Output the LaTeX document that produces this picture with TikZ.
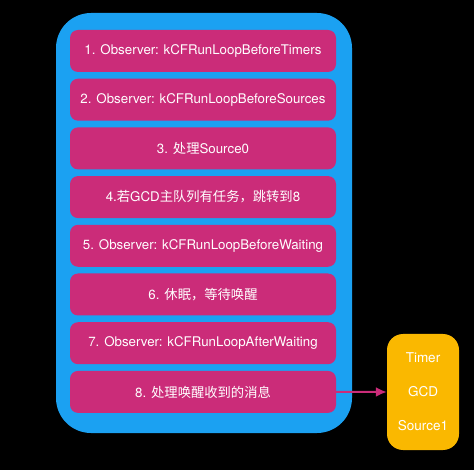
\documentclass[tikz,border=0pt]{standalone}
\usepackage{fontspec}
\setmainfont{TeX Gyre Heros}
\newfontfamily\cjk{Noto Sans CJK SC}
\usetikzlibrary{arrows.meta}
\definecolor{loopblue}{RGB}{27,161,242}
\definecolor{steppink}{RGB}{203,44,121}
\definecolor{srcyellow}{RGB}{250,184,0}
\begin{document}
\begin{tikzpicture}[x=1pt,y=-1pt,
    stepbox/.style={rectangle, rounded corners=8pt, fill=steppink, text=white,
        minimum width=266pt, minimum height=42pt, font=\fontsize{13.3}{15}\selectfont},
    looparrow/.style={-{Latex[length=11pt,width=10pt]}, line width=2pt, draw=steppink}]
            \fill[black] (0,0) rectangle (474,470);
            \node[rectangle, rounded corners=35pt, fill=loopblue, minimum width=296pt, minimum height=420pt] (loop) at (204,223) {};
            \node[stepbox] (s1) at (203,51) {1. Observer: kCFRunLoopBeforeTimers};
            \node[stepbox] (s2) at (203,99.7) {2. Observer: kCFRunLoopBeforeSources};
            \node[stepbox] (s3) at (203,148.4) {3. {\cjk 处理}Source0};
            \node[stepbox] (s4) at (203,197.1) {4.{\cjk 若}GCD{\cjk 主队列有任务，跳转到}8};
            \node[stepbox] (s5) at (203,245.8) {5. Observer: kCFRunLoopBeforeWaiting};
            \node[stepbox] (s6) at (203,294.5) {6. {\cjk 休眠，等待唤醒}};
            \node[stepbox] (s7) at (203,343.2) {7. Observer: kCFRunLoopAfterWaiting};
            \node[stepbox] (s8) at (203,391.9) {8. {\cjk 处理唤醒收到的消息}};
            \node[rectangle, rounded corners=16pt, fill=srcyellow, text=white, align=center,
                minimum width=72pt, minimum height=116pt, font=\fontsize{13.5}{34}\selectfont] (src) at (423,392) {Timer\\GCD\\Source1};

            \draw[looparrow] (s8.east) -- (src.west);
        \end{tikzpicture}
\end{document}
